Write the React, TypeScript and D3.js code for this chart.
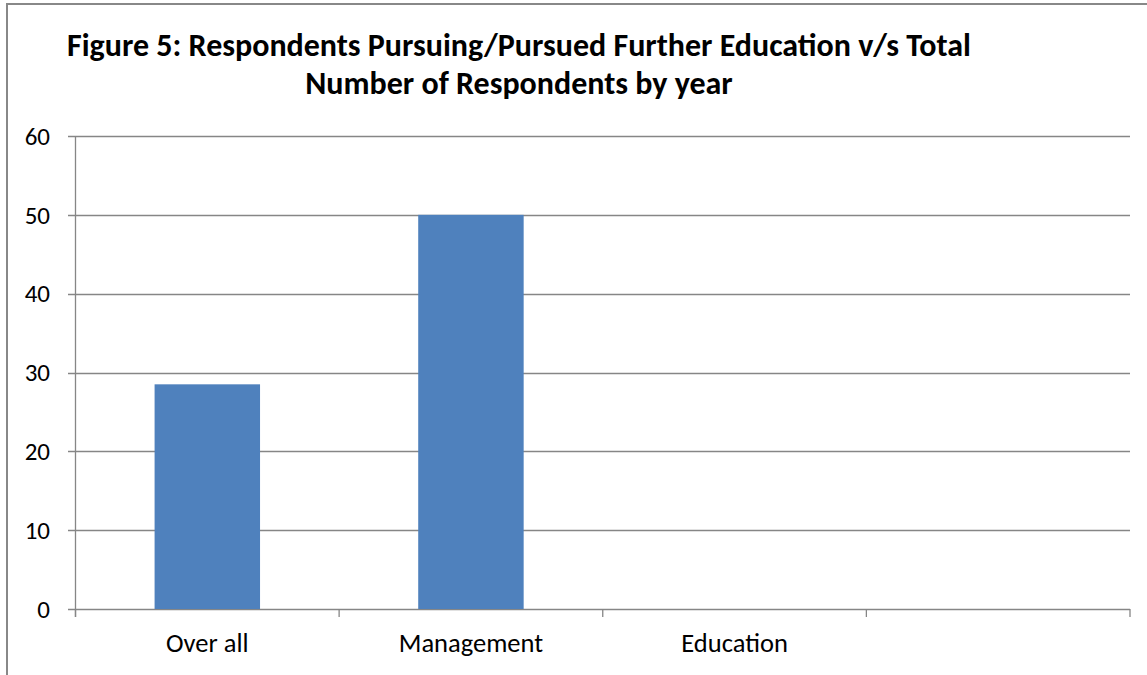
import React from "react";
import * as d3 from "d3";

const categories = ["Over all", "Management", "Education", ""];
const values: (number | null)[] = [28.5, 50, null, null];
const yTicks = [0, 10, 20, 30, 40, 50, 60];
const titleLines = [
  "Figure 5: Respondents Pursuing/Pursued Further Education v/s Total",
  "Number of Respondents by year",
];

export default function App() {
  const W = 1147, H = 675;
  const left = 75.5, right = 1130, top = 136, bottom = 609;
  const x = d3.scaleBand<string>().domain(categories.map((c, i) => i + ":" + c)).range([left, right]).padding(0);
  const y = d3.scaleLinear().domain([0, 60]).range([bottom, top]);
  const bw = x.bandwidth() * 0.4;
  const font = "Carlito, Calibri, 'Open Sans', sans-serif";
  const keys = x.domain();
  const boundaries = [...keys.map((k) => x(k)!), right];
  return (
    <svg width={W} height={H} style={{ position: "absolute", left: 0, top: 0 }}>
      <rect x={0} y={0} width={W} height={H} fill="#fff" />
      <rect x={7} y={4} width={W + 10} height={H + 10} fill="none" stroke="#888" strokeWidth={2} />
      {titleLines.map((t, i) => (
        <text key={i} x={519} y={i === 0 ? 56 : 94} textAnchor="middle" fontFamily={font}
          fontWeight="bold" fontSize={32} fill="#000">{t}</text>
      ))}
      {yTicks.map((t) => (
        <g key={t}>
          <line x1={68} x2={right} y1={Math.round(y(t)) + 0.5} y2={Math.round(y(t)) + 0.5} stroke="#868686" strokeWidth={1.3} />
          <text x={50} y={y(t)} dy="0.35em" textAnchor="end" fontFamily={font} fontSize={25} fill="#000">{t}</text>
        </g>
      ))}
      {keys.map((k, i) => {
        const v = values[i];
        if (v == null) return null;
        const cx = x(k)! + x.bandwidth() / 2;
        return <rect key={k} x={cx - bw / 2} y={y(v)} width={bw} height={y(0) - y(v)} fill="#4f81bd" />;
      })}
      <line x1={left} x2={left} y1={top} y2={bottom + 8} stroke="#868686" strokeWidth={1.3} />
      {boundaries.map((b, i) => (
        <line key={i} x1={b} x2={b} y1={bottom} y2={bottom + 8} stroke="#868686" strokeWidth={1.3} />
      ))}
      {keys.map((k, i) => (
        <text key={k} x={x(k)! + x.bandwidth() / 2} y={652} textAnchor="middle" fontFamily={font} fontSize={26.5} fill="#000">{categories[i]}</text>
      ))}
    </svg>
  );
}
